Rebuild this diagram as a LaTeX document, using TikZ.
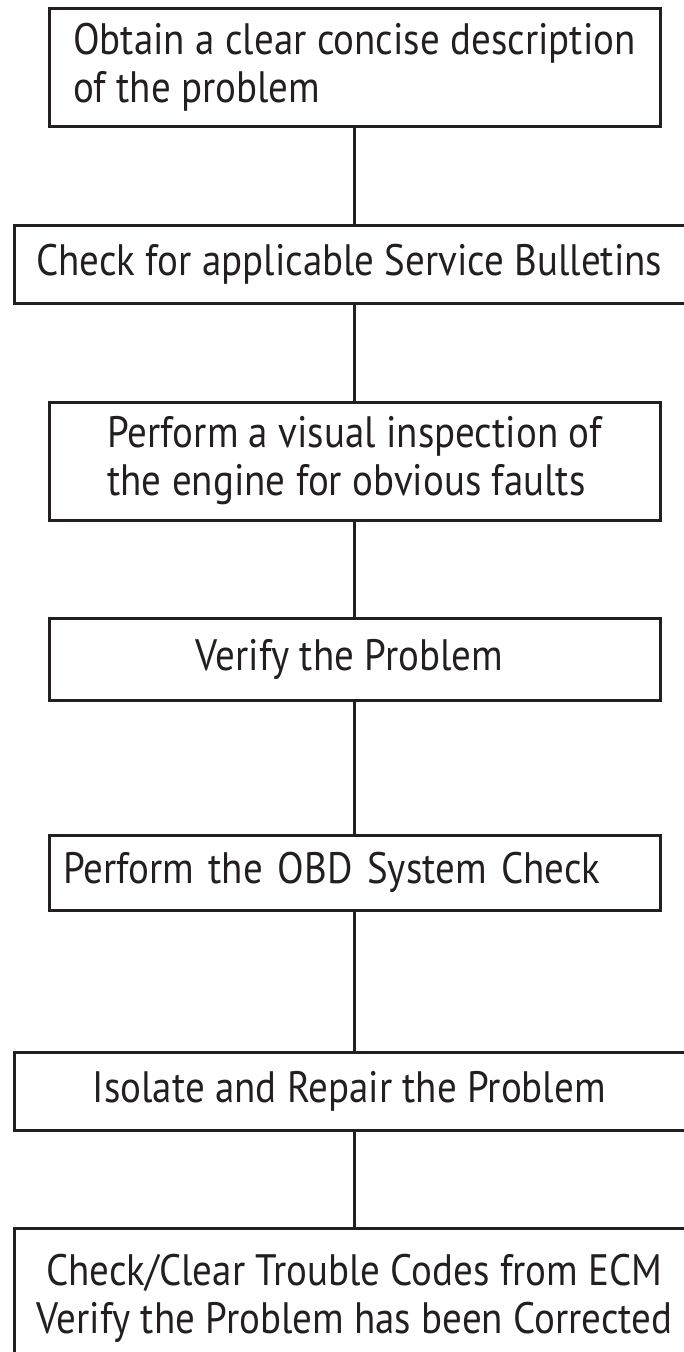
\documentclass[tikz,border=0pt]{standalone}
\usepackage{fontspec}
\setmainfont{PT Sans}[FakeStretch=0.885]
\usetikzlibrary{positioning}
\definecolor{inkgray}{RGB}{35,31,32}

\begin{document}
\begin{tikzpicture}[
    x=1pt, y=1pt,
    every node/.style={font=\fontsize{44}{48}\selectfont, text=inkgray},
    stepbox/.style={
        rectangle,
        draw=inkgray,
        line width=3pt,
        outer sep=0pt,
        align=center,
        inner xsep=14pt,
        minimum width=611pt,
        minimum height=82pt
    },
    widebox/.style={
        stepbox,
        minimum width=680pt,
        minimum height=78pt
    },
    link/.style={draw=inkgray, line width=3pt}
]

\useasboundingbox (0,0) rectangle (684,-1352);
\clip (0,0) rectangle (684,-1352);

% Steps
\node[stepbox, align=left, minimum height=118pt] (describe) at (354.5,-67) {%
Obtain a clear concise description\\
of the problem
};

\node[widebox, below=99pt of describe] (bulletins) {%
Check for applicable Service Bulletins
};

\node[stepbox, align=left, minimum height=118pt, below=99pt of bulletins] (inspect) {%
Perform a visual inspection of\\
the engine for obvious faults
};

\node[stepbox, below=98pt of inspect] (verify) {%
Verify the Problem
};

\node[stepbox, align=left, text width=583pt, minimum height=75pt, below=135pt of verify] (obd) {%
Perform the OBD System Check
};

\node[widebox, below=142pt of obd] (repair) {%
Isolate and Repair the Problem
};

\node[widebox, minimum height=140pt, below=98pt of repair] (clearcodes) {%
Check/Clear Trouble Codes from ECM\\
Verify the Problem has been Corrected
};

% Links
\draw[link] (describe) -- (bulletins);
\draw[link] (bulletins) -- (inspect);
\draw[link] (inspect) -- (verify);
\draw[link] (verify) -- (obd);
\draw[link] (obd) -- (repair);
\draw[link] (repair) -- (clearcodes);

\end{tikzpicture}
\end{document}
